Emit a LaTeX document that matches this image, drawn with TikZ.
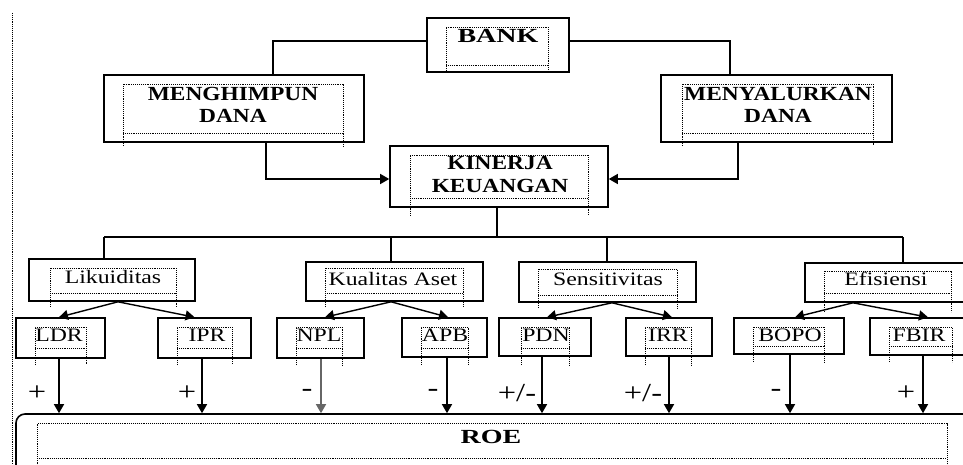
\documentclass[tikz,border=0pt]{standalone}
\usepackage{fontspec}
\setmainfont{Liberation Serif}[FakeStretch=1.25]
\newfontfamily\widefont{Liberation Serif}[FakeStretch=1.4]
\newfontfamily\topfont{Liberation Serif}[FakeStretch=1.17]
\usetikzlibrary{arrows.meta}
\tikzset{
  box/.style={draw, line width=1.6pt, inner sep=0pt},
  conn/.style={line width=1.4pt},
  arr/.style={line width=1.4pt, -{Triangle[length=9pt,width=10pt]}},
  wframe/.style={densely dotted, line width=0.9pt},
  lbl/.style={anchor=base, inner sep=0pt, font=\topfont\bfseries\fontsize{20}{22}\selectfont},
  slbl/.style={anchor=base, inner sep=0pt, font=\fontsize{19}{22}\selectfont},
  sign/.style={anchor=center, inner sep=0pt, font=\fontsize{26}{28}\selectfont}
}
\newcommand\wordframe[5]{%
  \draw[wframe] (#1,#5) -- (#1,#2) -- (#3,#2) -- (#3,#5);
  \draw[wframe] (#1,#4) -- (#3,#4);}
\begin{document}
\begin{tikzpicture}[x=1pt,y=-1pt]
\useasboundingbox (0,0) rectangle (963,465);
\clip (0,0) rectangle (963,465);
\fill[white] (0,0) rectangle (963,465);
% left dotted margin
\draw[densely dotted, line width=0.9pt] (12.5,13) -- (12.5,465);
% boxes
\node[box, minimum width=142pt, minimum height=54pt] (bank) at (498,45) {};
\node[box, minimum width=260pt, minimum height=67pt] (mh) at (234,108.5) {};
\node[box, minimum width=231pt, minimum height=67pt] (my) at (776.5,108.5) {};
\node[box, minimum width=218pt, minimum height=61pt] (ki) at (499,176.5) {};
\node[box, minimum width=166pt, minimum height=42pt] (lik) at (112,280) {};
\node[box, minimum width=177pt, minimum height=39pt] (kua) at (394.5,281.5) {};
\node[box, minimum width=177pt, minimum height=40pt] (sen) at (607.5,282) {};
\node[box, minimum width=170pt, minimum height=39pt] (efi) at (890,282.5) {};
\node[box, minimum width=89pt, minimum height=40pt] (ldr) at (60.5,338) {};
\node[box, minimum width=93pt, minimum height=40pt] (ipr) at (204.5,338) {};
\node[box, minimum width=87pt, minimum height=40pt] (npl) at (320.5,338) {};
\node[box, minimum width=85pt, minimum height=39pt] (apb) at (444.5,337.5) {};
\node[box, minimum width=92pt, minimum height=38pt] (pdn) at (545,337) {};
\node[box, minimum width=86pt, minimum height=38pt] (irr) at (669,337) {};
\node[box, minimum width=110pt, minimum height=36pt] (bopo) at (789,336) {};
\node[box, minimum width=105pt, minimum height=37pt] (fbir) at (922.5,336.5) {};
\node[box, rounded corners=9pt, minimum width=959pt, minimum height=86pt] (roe) at (495.5,457) {};
% word text frames
\wordframe{446}{27}{548}{65}{71}
\wordframe{123}{84}{343}{133}{146}
\wordframe{682}{84}{873}{133}{146}
\wordframe{410}{155}{588}{198}{216}
\wordframe{50}{268}{176}{293}{307}
\wordframe{325}{268}{463}{293}{307}
\wordframe{538}{269}{677}{295}{308}
\wordframe{824}{271}{951}{293}{312}
\wordframe{35}{327}{86}{348}{365}
\wordframe{177}{327}{232}{348}{365}
\wordframe{296}{327}{342}{348}{365}
\wordframe{421}{327}{468}{348}{365}
\wordframe{521}{327}{569}{348}{365}
\wordframe{645}{327}{691}{348}{365}
\wordframe{753}{327}{824}{346}{362}
\wordframe{889}{327}{952}{346}{362}
\draw[wframe] (37,470) -- (37,423.5) -- (947,423.5) -- (947,470);
\draw[wframe] (37,458) -- (947,458);
% texts
\node[lbl, font=\widefont\bfseries\fontsize{20}{22}\selectfont] (tbank) at (498,43) {BANK};
\node[lbl] (tmh1) at (233,101) {MENGHIMPUN};
\node[lbl] (tmh2) at (233,123) {DANA};
\node[lbl] (tmy1) at (778,101) {MENYALURKAN};
\node[lbl] (tmy2) at (778,123) {DANA};
\node[lbl] (tki1) at (500,170) {KINERJA};
\node[lbl] (tki2) at (500,193) {KEUANGAN};
\node[slbl] (tlik) at (113,283) {Likuiditas};
\node[slbl] (tkua) at (393,285) {Kualitas Aset};
\node[slbl] (tsen) at (608,285) {Sensitivitas};
\node[slbl] (tefi) at (886,285) {Efisiensi};
\node[slbl] (tldr) at (59,341) {LDR};
\node[slbl] (tipr) at (207,341) {IPR};
\node[slbl] (tnpl) at (319,341) {NPL};
\node[slbl] (tapb) at (445,341) {APB};
\node[slbl] (tpdn) at (546,341) {PDN};
\node[slbl] (tirr) at (668,341) {IRR};
\node[slbl] (tbopo) at (790,341) {BOPO};
\node[slbl] (tfbir) at (919,341) {FBIR};
\node[lbl, font=\widefont\bfseries\fontsize{20}{22}\selectfont] (troe) at (491,443) {ROE};
% top connectors
\draw[conn] ([yshift=4pt]bank.west) -| ([xshift=39pt]mh.north);
\draw[conn] ([yshift=4pt]bank.east) -| ([xshift=-46.5pt]my.north);
\draw[arr] ([xshift=32pt]mh.south) |- ([yshift=-2.5pt]ki.west);
\draw[arr] ([xshift=-38.5pt]my.south) |- ([yshift=-2.5pt]ki.east);
% bus
\coordinate (busL) at (104,237);
\coordinate (busR) at (903,237);
\draw[conn] (busL) -- (busR);
\draw[conn] ([xshift=-2pt]ki.south) -- ([xshift=-2pt]ki.south |- busL);
\draw[conn] (busL) -- (busL |- lik.north);
\draw[conn] ([xshift=-3.5pt]kua.north) -- ([xshift=-3.5pt]kua.north |- busL);
\draw[conn] ([xshift=-0.5pt]sen.north) -- ([xshift=-0.5pt]sen.north |- busL);
\draw[conn] (busR) -- (busR |- efi.north);
% tree arrows
\draw[arr] ([xshift=6pt]lik.south) -- ([xshift=-1.5pt]ldr.north);
\draw[arr] ([xshift=6pt]lik.south) -- ([xshift=-10pt]ipr.north);
\draw[arr] ([xshift=-3.5pt]kua.south) -- ([xshift=4.5pt]npl.north);
\draw[arr] ([xshift=-3.5pt]kua.south) -- ([xshift=3.5pt]apb.north);
\draw[arr] ([xshift=4.5pt]sen.south) -- ([xshift=2pt]pdn.north);
\draw[arr] ([xshift=4.5pt]sen.south) -- ([xshift=3pt]irr.north);
\draw[arr] ([xshift=-37pt]efi.south) -- ([xshift=6pt]bopo.north);
\draw[arr] ([xshift=-37pt]efi.south) -- ([xshift=5.5pt]fbir.north);
% arrows to ROE
\draw[arr] ([xshift=-1.5pt]ldr.south) -- ([xshift=-1.5pt]ldr.south |- roe.north);
\draw[arr] ([xshift=-2.5pt]ipr.south) -- ([xshift=-2.5pt]ipr.south |- roe.north);
\draw[arr, draw=black!60] ([xshift=0.5pt]npl.south) -- ([xshift=0.5pt]npl.south |- roe.north);
\draw[arr] ([xshift=2.5pt]apb.south) -- ([xshift=2.5pt]apb.south |- roe.north);
\draw[arr] ([xshift=-3pt]pdn.south) -- ([xshift=-3pt]pdn.south |- roe.north);
\draw[arr] (irr.south) -- (irr.south |- roe.north);
\draw[arr] ([xshift=1pt]bopo.south) -- ([xshift=1pt]bopo.south |- roe.north);
\draw[arr] ([xshift=0.5pt]fbir.south) -- ([xshift=0.5pt]fbir.south |- roe.north);
% signs
\node[sign] (s1) at (37,393) {+};
\node[sign] (s2) at (187,393) {+};
\node[sign] (s3) at (307,393) {-};
\node[sign] (s4) at (433,393) {-};
\node[sign] (s5) at (517,393) {+/-};
\node[sign] (s6) at (643,393) {+/-};
\node[sign] (s7) at (776,393) {-};
\node[sign] (s8) at (906,393) {+};
\end{tikzpicture}
\end{document}
